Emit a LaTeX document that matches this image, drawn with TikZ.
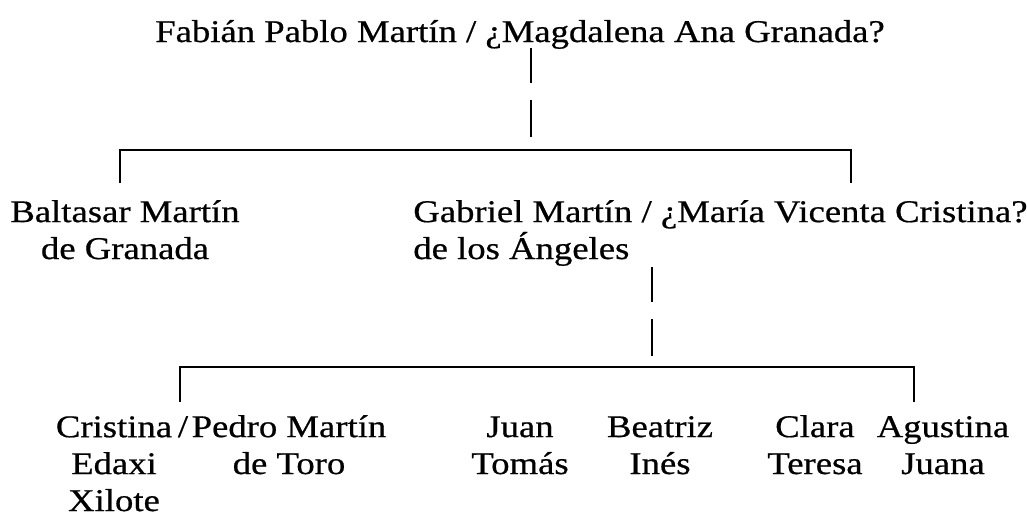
\documentclass[tikz,border=0pt]{standalone}
\usepackage{fontspec}
\setmainfont{Liberation Serif}[FakeStretch=1.16, FakeBold=0.6]
\tikzset{
  person/.style={inner sep=0pt, font=\fontsize{18}{21}\selectfont},
  bar/.style={line width=1.2pt},
  gapline/.style={line width=1.1pt, dash pattern=on 19.8pt off 9.6pt on 21pt off 20pt}
}
\begin{document}
\begin{tikzpicture}
\useasboundingbox (0,0) rectangle (20.54,-10.36);

% first generation
\node (fab) [person, anchor=base] at (10.4,-0.84) {Fabián Pablo Martín / ¿Magdalena Ana Granada?};

% second generation (base = last line)
\node (balt) [person, anchor=base, align=center] at (2.5,-5.18) {Baltasar Martín\\de Granada};
\node (gab) [person, anchor=base west, align=left] at (8.26,-5.18) {Gabriel Martín / ¿María Vicenta Cristina?\\ de los Ángeles};

% third generation
\node (slash) [person, anchor=base] at (3.66,-8.74) {/};
\node (cris) [person, anchor=base, align=center] at (2.28,-10.22) {Cristina\\Edaxi\\Xilote};
\node (pedro) [person, anchor=base, align=center] at (5.78,-9.48) {Pedro Martín\\de Toro};
\node (juan) [person, anchor=base, align=center] at (10.4,-9.48) {Juan\\Tomás};
\node (beat) [person, anchor=base, align=center] at (13.2,-9.48) {Beatriz\\Inés};
\node (clara) [person, anchor=base, align=center] at (16.3,-9.48) {Clara\\Teresa};
\node (agus) [person, anchor=base, align=center] at (18.86,-9.48) {Agustina\\Juana};

% branch points
\coordinate (fabdown) at (10.62,-0.96);
\coordinate (fabjoin) at (10.62,-3.0);
\coordinate (baltup) at (2.4,-3.66);
\coordinate (gabup) at (17.02,-3.66);
\coordinate (gabdown) at (13.04,-5.34);
\coordinate (gabjoin) at (13.04,-7.34);
\coordinate (crisup) at (3.6,-8.04);
\coordinate (agusup) at (18.28,-8.04);

\draw [gapline] (fabdown) -- (fabjoin);
\draw [bar] (baltup) |- (gabup |- fabjoin) -- (gabup);
\draw [gapline] (gabdown) -- (gabjoin);
\draw [bar] (crisup) |- (agusup |- gabjoin) -- (agusup);
\end{tikzpicture}
\end{document}
